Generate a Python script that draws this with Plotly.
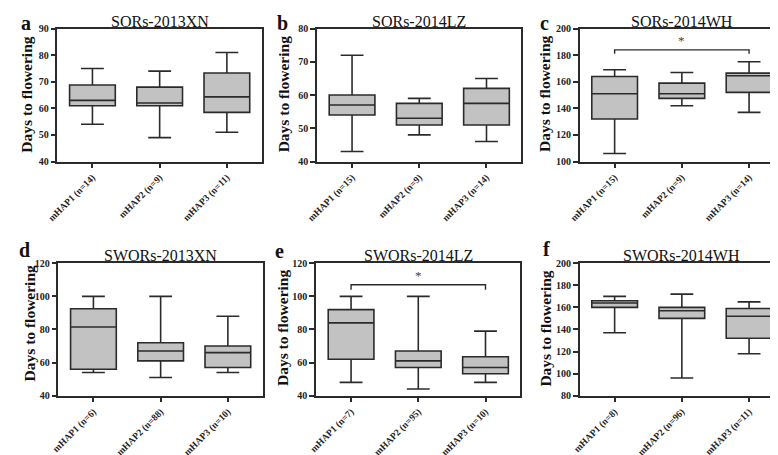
import plotly.graph_objects as go

W, H = 778, 455

# ---------------- data ----------------
titles = ["SORs-2013XN", "SORs-2014LZ", "SORs-2014WH",
          "SWORs-2013XN", "SWORs-2014LZ", "SWORs-2014WH"]
letters = ["a", "b", "c", "d", "e", "f"]

labels_a = ["mHAP1 (n=14)", "mHAP2 (n=9)", "mHAP3 (n=11)"]
labels_b = ["mHAP1 (n=15)", "mHAP2 (n=9)", "mHAP3 (n=14)"]
labels_c = ["mHAP1 (n=15)", "mHAP2 (n=9)", "mHAP3 (n=14)"]
labels_d = ["mHAP1 (n=6)", "mHAP2 (n=88)", "mHAP3 (n=10)"]
labels_e = ["mHAP1 (n=7)", "mHAP2 (n=95)", "mHAP3 (n=10)"]
labels_f = ["mHAP1 (n=8)", "mHAP2 (n=96)", "mHAP3 (n=11)"]

lo_a = [54, 49, 51];    q1_a = [61, 61, 58.5];   med_a = [63, 62, 64.3];   q3_a = [68.8, 68, 73.3];  hi_a = [75, 74, 81]
lo_b = [43, 48, 46];    q1_b = [54, 51, 51];     med_b = [57, 53, 57.5];   q3_b = [60, 57.5, 62];    hi_b = [72, 59, 65]
lo_c = [106, 142, 137]; q1_c = [132, 147.5, 152]; med_c = [151, 151, 164.5]; q3_c = [164, 159, 166.5]; hi_c = [169, 167, 175]
lo_d = [54, 51, 54];    q1_d = [56, 61, 57];     med_d = [81.5, 67, 66];   q3_d = [92.5, 72, 70];    hi_d = [100, 100, 88]
lo_e = [48, 44, 48];    q1_e = [62, 57, 53.2];   med_e = [84, 61, 57];     q3_e = [92, 67, 63.5];    hi_e = [100, 100, 79]
lo_f = [137, 96, 118];  q1_f = [160, 150, 132];  med_f = [164, 157, 152];  q3_f = [166, 160, 159];   hi_f = [170, 172, 165]

yticks_a = [40, 50, 60, 70, 80, 90]
yticks_b = [40, 50, 60, 70, 80]
yticks_c = [100, 120, 140, 160, 180, 200]
yticks_d = [40, 60, 80, 100, 120]
yticks_e = [40, 60, 80, 100, 120]
yticks_f = [80, 100, 120, 140, 160, 180, 200]

# significance brackets: (from category, to category, bracket level, tick end)
sig_c = [0, 2, 184, 181]
sig_e = [0, 2, 107, 104]

panels = [
    (labels_a, lo_a, q1_a, med_a, q3_a, hi_a, yticks_a, None),
    (labels_b, lo_b, q1_b, med_b, q3_b, hi_b, yticks_b, None),
    (labels_c, lo_c, q1_c, med_c, q3_c, hi_c, yticks_c, sig_c),
    (labels_d, lo_d, q1_d, med_d, q3_d, hi_d, yticks_d, None),
    (labels_e, lo_e, q1_e, med_e, q3_e, hi_e, yticks_e, sig_e),
    (labels_f, lo_f, q1_f, med_f, q3_f, hi_f, yticks_f, None),
]

# ---------------- layout geometry (pixels) ----------------
xdom_px = [(40, 247), (303, 510), (569, 776), (41, 248), (302, 509), (569, 776)]
ydom_px = [(15, 151.5)] * 3 + [(256, 392)] * 3
letter_px = [(8, 9), (268, 9), (533, 9), (7, 242), (265, 243), (535, 241)]
ylab_px = [(9, 83), (269, 83), (534, 82), (12, 318), (268, 323), (534, 323)]
title_py = [8, 8, 8, 248, 248, 248]

SERIF = "Times New Roman, Liberation Serif, Times, serif"
DARK = "#2b2b2b"
fig = go.Figure()
layout = dict(width=W, height=H, margin=dict(l=0, r=0, t=0, b=0),
              paper_bgcolor="white", plot_bgcolor="white", showlegend=False,
              font=dict(family=SERIF))
annotations = []

def px_x(p):
    return p / W

def px_y(p):
    return 1 - p / H

for i, (labels, lo, q1, med, q3, hi, yt, sig) in enumerate(panels):
    n = "" if i == 0 else str(i + 1)
    xa, ya = "x" + n, "y" + n
    cats = list(range(len(labels)))
    fig.add_trace(go.Box(
        x=cats, q1=q1, median=med, q3=q3, lowerfence=lo, upperfence=hi,
        width=0.68, whiskerwidth=0.5, boxpoints=False,
        fillcolor="#c2c2c2", line=dict(color=DARK, width=1.6),
        xaxis=xa, yaxis=ya, hoverinfo="skip"))
    if sig is not None:
        a, b, top, tick = sig
        fig.add_trace(go.Scatter(
            x=[cats[a], cats[a], cats[b], cats[b]], y=[tick, top, top, tick],
            mode="lines", line=dict(color=DARK, width=1.4),
            xaxis=xa, yaxis=ya, hoverinfo="skip"))
        annotations.append(dict(x=(cats[a] + cats[b]) / 2, y=top, xref=xa, yref=ya,
                                text="*", showarrow=False, yanchor="bottom",
                                font=dict(family=SERIF, size=13, color="#444")))
    x0, x1 = xdom_px[i]
    y0, y1 = ydom_px[i]
    axis_common = dict(showgrid=False, zeroline=False, showline=True, mirror=True,
                       linecolor=DARK, linewidth=1.5, ticks="outside", ticklen=5,
                       tickwidth=1.5, tickcolor=DARK)
    layout["xaxis" + n] = dict(
        domain=[px_x(x0), px_x(x1)], anchor=ya, range=[-0.52, 2.52],
        tickmode="array", tickvals=cats, ticktext=labels, tickangle=-45,
        tickfont=dict(family=SERIF, size=9.5, color="#222", weight="bold"),
        **axis_common)
    layout["yaxis" + n] = dict(
        domain=[px_y(y1), px_y(y0)], anchor=xa, range=[yt[0], yt[-1]],
        tickmode="array", tickvals=yt,
        tickfont=dict(family=SERIF, size=10, color="#222", weight="bold"),
        **axis_common)
    annotations.append(dict(x=px_x((x0 + x1) / 2), y=px_y(title_py[i]), xref="paper", yref="paper",
                            text=titles[i], showarrow=False, xanchor="center", yanchor="middle",
                            font=dict(family=SERIF, size=16, color="#111")))
    lx, ly = letter_px[i]
    annotations.append(dict(x=px_x(lx), y=px_y(ly), xref="paper", yref="paper",
                            text=letters[i], showarrow=False, xanchor="center", yanchor="middle",
                            font=dict(family=SERIF, size=20, color="#111", weight="bold")))
    tx, ty = ylab_px[i]
    annotations.append(dict(x=px_x(tx), y=px_y(ty), xref="paper", yref="paper",
                            text="Days to flowering", showarrow=False, textangle=-90,
                            xanchor="center", yanchor="middle",
                            font=dict(family=SERIF, size=15.5, color="#111", weight="bold")))

layout["annotations"] = annotations
fig.update_layout(**layout)
fig.write_html("out.html")
